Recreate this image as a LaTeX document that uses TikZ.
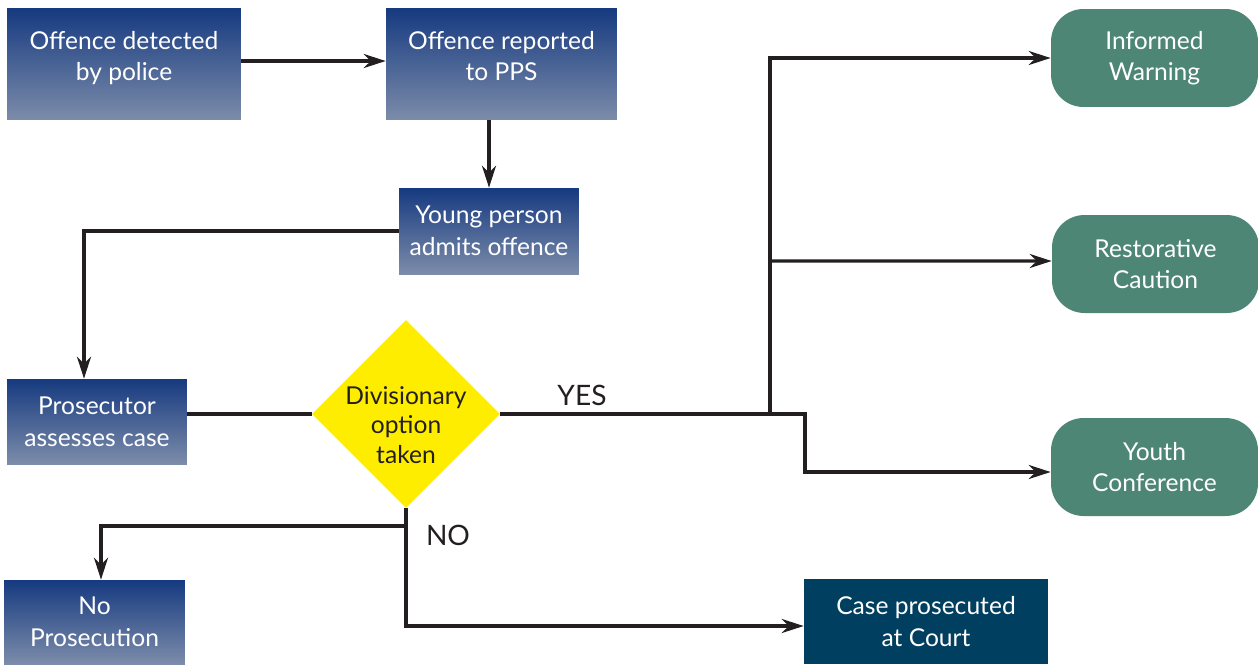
\documentclass[tikz,border=0pt]{standalone}
\usepackage{fontspec}
\setmainfont{Lato}
\usetikzlibrary{arrows.meta,shapes.geometric}
\definecolor{boxtop}{RGB}{22,58,128}
\definecolor{boxbottom}{RGB}{124,140,170}
\definecolor{courtblue}{RGB}{0,63,95}
\definecolor{optgreen}{RGB}{78,134,118}
\definecolor{divyellow}{RGB}{255,237,0}
\definecolor{inkgrey}{RGB}{35,31,32}
\tikzset{
	stagebox/.style = {rectangle, top color=boxtop, bottom color=boxbottom,
		text=white, align=center, inner sep=0pt},
	courtbox/.style = {rectangle, fill=courtblue, text=white, align=center, inner sep=0pt},
	optionbox/.style = {rectangle, rounded corners=0.65cm, fill=optgreen, text=white,
		align=center, inner sep=0pt, minimum width=4.14cm, minimum height=1.96cm},
	flow/.style = {draw=inkgrey, line width=1.8pt, -{Stealth[length=12.5pt,width=8pt]}},
	plainflow/.style = {draw=inkgrey, line width=1.8pt},
	answer/.style = {text=inkgrey, inner sep=0pt, font=\fontsize{16}{18}\selectfont}
}

\begin{document}
\begin{tikzpicture}[x=0.02cm, y=-0.02cm,
	every node/.style = {font=\fontsize{14}{18}\selectfont}]
	\useasboundingbox (0,0) rectangle (1258,664);

	% police and prosecution stages
	\node[stagebox, minimum width=4.68cm, minimum height=2.24cm] (detected) at (124,64)
		{Offence detected\\by police\\[-9pt]};
	\node[stagebox, minimum width=4.62cm, minimum height=2.24cm] (reported) at (501.5,64)
		{Offence reported\\to PPS\\[-9pt]};
	\node[stagebox, minimum width=3.60cm, minimum height=1.72cm] (admits) at (489,231)
		{Young person\\admits offence};
	\node[stagebox, minimum width=3.60cm, minimum height=1.70cm] (assesses) at (97,421.5)
		{Prosecutor\\assesses case};
	\node[diamond, fill=divyellow, minimum size=3.76cm, inner sep=0pt,
		label={[align=center, text=inkgrey, yshift=-0.22cm,
			font=\fontsize{14}{16.7}\selectfont]center:Divisionary\\option\\taken}] (option) at (406,414) {};
	\node[stagebox, minimum width=3.62cm, minimum height=1.68cm] (noprosecution) at (94.5,622)
		{No\\Prosecution};
	\node[courtbox, minimum width=4.88cm, minimum height=1.70cm] (court) at (926,621.5)
		{Case prosecuted\\at Court};

	% diversionary outcomes
	\node[optionbox] (warning) at (1154.5,58) {Informed\\Warning};
	\node[optionbox] (caution) at (1155.5,264) {Restorative\\Caution};
	\node[optionbox] (conference) at (1154.5,467) {Youth\\Conference};

	\coordinate (split) at (770,414);
	\coordinate (jog) at (805,414);
	\coordinate (fork) at (406,526);

	\draw[flow] ([yshift=0.06cm]detected.east) -- ([yshift=0.06cm]reported.west);
	\draw[flow] (admits.north |- reported.south) -- (admits.north);
	\draw[flow] (admits.west) -| ([xshift=-0.26cm]assesses.north);
	\draw[plainflow] (assesses.east |- option.west) -- (option.west);
	\draw[flow] (option.east) -- (jog) |- ([yshift=-0.1cm]conference.west);
	\draw[flow] (split) |- (warning.west);
	\draw[flow] (split |- caution.west) ++(0,-3) -- ([yshift=0.06cm]caution.west);
	\draw[flow] (fork) -| ([xshift=0.13cm]noprosecution.north);
	\draw[flow] (option.south) |- ([yshift=-0.09cm]court.west);

	\node[answer] (yes) at (582,395) {YES};
	\node[answer] (no) at (448,535) {NO};
\end{tikzpicture}
\end{document}
